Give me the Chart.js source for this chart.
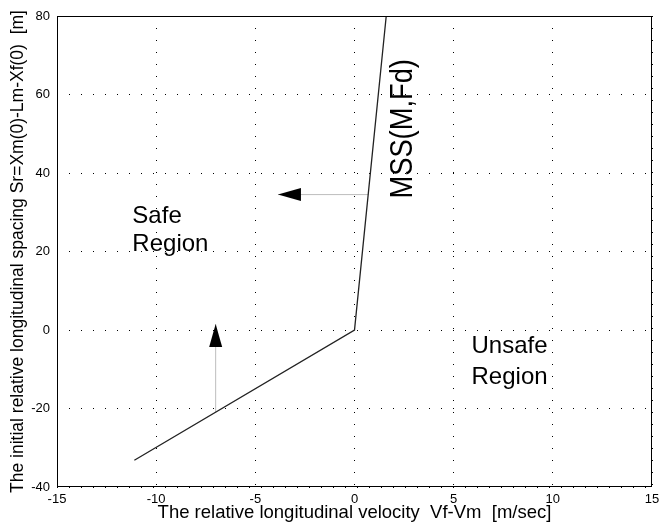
<!DOCTYPE html>
<html>
<head>
<meta charset="utf-8">
<script src="https://cdn.jsdelivr.net/npm/chart.js@4"></script>
<style>
  html, body { margin: 0; padding: 0; background: #fff; }
  #c { display: block; }
</style>
</head>
<body>
<canvas id="c" width="659" height="529"></canvas>
<script>
// Minimum safe spacing boundary, safe / unsafe regions.

const xTicks = [-15, -10, -5, 0, 5, 10, 15];
const yTicks = [-40, -20, 0, 20, 40, 60, 80];

// MSS(M,Fd) boundary
const mssX = [-11.1, 0, 1.6];
const mssY = [-33.2, 0, 80];

// arrows: tail -> tip
const arrowFromX = [-7, 0.69];
const arrowFromY = [-21, 34.5];
const arrowToX = [-7, -3.86];
const arrowToY = [1.5, 34.5];

// region labels (left aligned, baseline)
const labelText = ['Safe', 'Region', 'Unsafe', 'Region'];
const labelX = [-11.2, -11.2, 5.9, 5.9];
const labelY = [27.3, 20.1, -5.9, -13.8];

// rotated boundary label, start point (bottom) on baseline
const mssLabel = 'MSS(M,Fd)';
const mssLabelX = 2.9;
const mssLabelY = 33.5;

const FONT = '"Liberation Sans", Arial, Helvetica, sans-serif';

const toPts = (xs, ys) => xs.map((x, i) => ({ x, y: ys[i] }));

const arrowSets = arrowFromX.map((_, i) => ({
  data: toPts([arrowFromX[i], arrowToX[i]], [arrowFromY[i], arrowToY[i]]),
  showLine: true,
  borderColor: '#bdbdbd',
  borderWidth: 1,
  pointRadius: 0,
}));

const decor = {
  id: 'decor',
  afterDatasetsDraw(chart) {
    const { ctx, chartArea: a, scales: { x, y } } = chart;
    ctx.save();
    // box
    ctx.strokeStyle = '#000';
    ctx.lineWidth = 1;
    ctx.strokeRect(a.left + 0.5, a.top + 0.5, a.right - a.left - 1, a.bottom - a.top - 1);

    // arrowheads
    ctx.fillStyle = '#000';
    arrowToX.forEach((tx, i) => {
      const px = x.getPixelForValue(tx), py = y.getPixelForValue(arrowToY[i]);
      const fx = x.getPixelForValue(arrowFromX[i]), fy = y.getPixelForValue(arrowFromY[i]);
      const ang = Math.atan2(py - fy, px - fx);
      const len = 23, half = 6.5;
      ctx.save();
      ctx.translate(px, py);
      ctx.rotate(ang);
      ctx.beginPath();
      ctx.moveTo(0, 0);
      ctx.lineTo(-len, -half);
      ctx.lineTo(-len, half);
      ctx.closePath();
      ctx.fill();
      ctx.restore();
    });

    // region labels
    ctx.font = '24px ' + FONT;
    ctx.textAlign = 'left';
    ctx.textBaseline = 'alphabetic';
    labelText.forEach((t, i) => {
      ctx.fillText(t, x.getPixelForValue(labelX[i]), y.getPixelForValue(labelY[i]));
    });

    // boundary label, rotated
    ctx.save();
    ctx.translate(x.getPixelForValue(mssLabelX), y.getPixelForValue(mssLabelY));
    ctx.rotate(-Math.PI / 2);
    ctx.scale(0.88, 1);
    ctx.font = '31px ' + FONT;
    ctx.fillText(mssLabel, 0, 0);
    ctx.restore();

    ctx.restore();
  },
};

new Chart(document.getElementById('c'), {
  type: 'scatter',
  data: {
    datasets: [
      {
        data: toPts(mssX, mssY),
        showLine: true,
        borderColor: '#222',
        borderWidth: 1.3,
        pointRadius: 0,
      },
      ...arrowSets,
    ],
  },
  options: {
    responsive: false,
    animation: false,
    events: [],
    layout: { padding: { left: 0, top: 16, right: 7, bottom: 0 } },
    plugins: { legend: { display: false }, tooltip: { enabled: false } },
    scales: {
      x: {
        type: 'linear',
        min: -15,
        max: 15,
        afterBuildTicks: (s) => { s.ticks = xTicks.map((v) => ({ value: v })); },
        afterFit: (s) => { s.height = 42; s.paddingLeft = 0; s.paddingRight = 0; },
        grid: { color: '#000', lineWidth: 1, drawTicks: false },
        border: { display: false, dash: [1, 11] },
        ticks: { color: '#000', padding: 5, font: { family: FONT, size: 13 }, maxRotation: 0 },
        title: {
          display: true,
          text: 'The relative longitudinal velocity  Vf-Vm  [m/sec]',
          color: '#000',
          font: { family: FONT, size: 18.5 },
          padding: { top: 0, bottom: 5 },
        },
      },
      y: {
        type: 'linear',
        min: -40,
        max: 80,
        afterBuildTicks: (s) => { s.ticks = yTicks.map((v) => ({ value: v })); },
        afterFit: (s) => { s.width = 57; s.paddingTop = 0; s.paddingBottom = 0; },
        grid: { color: '#000', lineWidth: 1, drawTicks: false },
        border: { display: false, dash: [1, 11] },
        ticks: { color: '#000', padding: 7, font: { family: FONT, size: 13 } },
        title: {
          display: true,
          text: 'The initial relative longitudinal spacing Sr=Xm(0)-Lm-Xf(0)  [m]',
          color: '#000',
          font: { family: FONT, size: 17.5 },
          padding: { top: 8, bottom: 0 },
        },
      },
    },
  },
  plugins: [decor],
});
</script>
</body>
</html>
